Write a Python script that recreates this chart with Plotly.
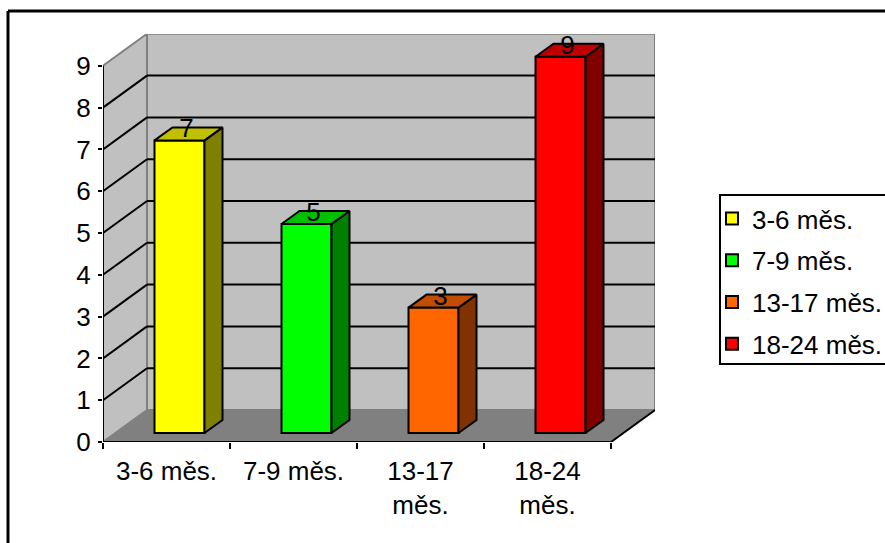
import plotly.graph_objects as go

# Chart data
categories = ["3-6 měs.", "7-9 měs.", "13-17 měs.", "18-24 měs."]
tick_labels = ["3-6 měs.", "7-9 měs.", "13-17<br>měs.", "18-24<br>měs."]
values = [7, 5, 3, 9]
front_colors = ["#FFFF00", "#00FF00", "#FF6600", "#FF0000"]
top_colors = ["#C0C000", "#00C000", "#C04D00", "#C00000"]
side_colors = ["#808000", "#008000", "#803300", "#800000"]
y_ticks = list(range(0, 10))

# Plot frame in pixels and the scale of each axis
CANVAS_W, CANVAS_H = 885, 543
LEFT, RIGHT, TOP, BOTTOM = 103, 655, 34, 442
PX_PER_CAT, PX_PER_UNIT = 127, 41.8
N = len(categories)
Y_MAX = y_ticks[-1]

# Oblique projection: depth offsets of the walls and of the columns, in axis units
WALL_DX, WALL_DY = 44 / PX_PER_CAT, 32 / PX_PER_UNIT
BAR_W = 50 / PX_PER_CAT
BAR_DX, BAR_DY = 18 / PX_PER_CAT, 13 / PX_PER_UNIT
GAP_DX, GAP_DY = 13 / PX_PER_CAT, 9 / PX_PER_UNIT
LABEL_DX, LABEL_DY = 7 / PX_PER_CAT, 9.5 / PX_PER_UNIT

LINE_BLACK = dict(color="black", width=2)
LINE_GRAY = dict(color="#808080", width=2)
FONT = dict(family="Liberation Sans, Arial, sans-serif", size=26, color="black")


def polygon(points, fill, line):
    path = "M" + " L".join(f"{x},{y}" for x, y in points) + " Z"
    return dict(type="path", path=path, xref="x", yref="y", fillcolor=fill,
                line=line, layer="below")


def segment(x0, y0, x1, y1, line):
    return dict(type="line", x0=x0, y0=y0, x1=x1, y1=y1, xref="x", yref="y",
                line=line, layer="below")


shapes = [
    # Side wall, back wall and floor
    polygon([(0, 0), (WALL_DX, WALL_DY), (WALL_DX, Y_MAX + WALL_DY), (0, Y_MAX)], "#C0C0C0", LINE_GRAY),
    polygon([(WALL_DX, WALL_DY), (N + WALL_DX, WALL_DY), (N + WALL_DX, Y_MAX + WALL_DY), (WALL_DX, Y_MAX + WALL_DY)], "#C0C0C0", LINE_GRAY),
    polygon([(0, 0), (N, 0), (N + WALL_DX, WALL_DY), (WALL_DX, WALL_DY)], "#808080", dict(width=0)),
]
# Gridlines wrap from the side wall onto the back wall
for v in y_ticks[1:-1]:
    shapes.append(segment(0, v, WALL_DX, v + WALL_DY, LINE_BLACK))
    shapes.append(segment(WALL_DX, v + WALL_DY, N + WALL_DX, v + WALL_DY, LINE_BLACK))

# Border around the whole chart; it runs off the right and bottom of the page
for x0, y0, x1, y1 in [(8, 11, CANVAS_W, 11), (8, 11, 8, CANVAS_H)]:
    shapes.append(dict(type="line", xref="paper", yref="paper",
                       x0=(x0 - LEFT) / (RIGHT - LEFT), x1=(x1 - LEFT) / (RIGHT - LEFT),
                       y0=(BOTTOM - y0) / (BOTTOM - TOP), y1=(BOTTOM - y1) / (BOTTOM - TOP),
                       line=dict(color="black", width=3)))
# Legend frame
shapes.append(dict(type="rect", xref="paper", yref="paper",
                   x0=(720 - LEFT) / (RIGHT - LEFT), x1=(CANVAS_W + 5 - LEFT) / (RIGHT - LEFT),
                   y0=(BOTTOM - 364) / (BOTTOM - TOP), y1=(BOTTOM - 195) / (BOTTOM - TOP),
                   line=LINE_BLACK))

fig = go.Figure()

# Column faces
for i, (name, v) in enumerate(zip(categories, values)):
    x_left = i + 0.5 + GAP_DX - BAR_W / 2
    x_right = x_left + BAR_W
    y_low = GAP_DY
    y_high = GAP_DY + v
    fig.add_trace(go.Bar(x=[i + 0.5 + GAP_DX], y=[v], base=GAP_DY, width=BAR_W, name=name,
                         legendgroup=name, marker=dict(color=front_colors[i], line=LINE_BLACK)))
    fig.add_trace(go.Scatter(
        x=[x_right, x_right + BAR_DX, x_right + BAR_DX, x_right, x_right],
        y=[y_low, y_low + BAR_DY, y_high + BAR_DY, y_high, y_low],
        mode="lines", fill="toself", fillcolor=side_colors[i], line=LINE_BLACK, showlegend=False))
    fig.add_trace(go.Scatter(
        x=[x_left, x_right, x_right + BAR_DX, x_left + BAR_DX, x_left],
        y=[y_high, y_high, y_high + BAR_DY, y_high + BAR_DY, y_high],
        mode="lines", fill="toself", fillcolor=top_colors[i], line=LINE_BLACK, showlegend=False))

# Axis lines, which stop short of the plot area's far edges
fig.add_trace(go.Scatter(x=[0, 0], y=[0, Y_MAX], mode="lines", line=LINE_BLACK,
                         cliponaxis=False, showlegend=False))
fig.add_trace(go.Scatter(x=[0, N, N + WALL_DX], y=[0, 0, WALL_DY], mode="lines", line=LINE_BLACK,
                         cliponaxis=False, showlegend=False))

# Value labels above each column
fig.add_trace(go.Scatter(
    x=[i + 0.5 + GAP_DX + LABEL_DX for i in range(N)],
    y=[GAP_DY + v + LABEL_DY for v in values],
    text=[str(v) for v in values], mode="text", textposition="middle center",
    textfont=FONT, cliponaxis=False, showlegend=False))

fig.update_layout(
    width=CANVAS_W, height=CANVAS_H, autosize=False,
    margin=dict(l=LEFT, r=CANVAS_W - RIGHT, t=TOP, b=CANVAS_H - BOTTOM, pad=0),
    paper_bgcolor="white", plot_bgcolor="white",
    barmode="overlay", font=FONT, shapes=shapes,
    legend=dict(xref="container", yref="container",
                x=712 / CANVAS_W, xanchor="left",
                y=1 - 195 / CANVAS_H, yanchor="top",
                bgcolor="rgba(0,0,0,0)", borderwidth=0, tracegroupgap=5, font=FONT),
    xaxis=dict(range=[0, (RIGHT - LEFT) / PX_PER_CAT], tickmode="array",
               tickvals=[i + 0.5 for i in range(N)], ticktext=tick_labels,
               ticks="", showgrid=False, zeroline=False, showline=False, ticklabelstandoff=11,
               minor=dict(tickmode="array", tickvals=list(range(N + 1)), ticks="outside",
                          ticklen=6, tickwidth=2, tickcolor="black", showgrid=False),
               tickfont=FONT),
    yaxis=dict(range=[0, (BOTTOM - TOP) / PX_PER_UNIT], tickmode="array",
               tickvals=y_ticks, ticktext=[str(t) for t in y_ticks],
               ticks="outside", ticklen=4, tickwidth=2, tickcolor="black",
               showgrid=False, zeroline=False, showline=False, ticklabelstandoff=2,
               tickfont=FONT),
)

fig.write_html("out.html")
